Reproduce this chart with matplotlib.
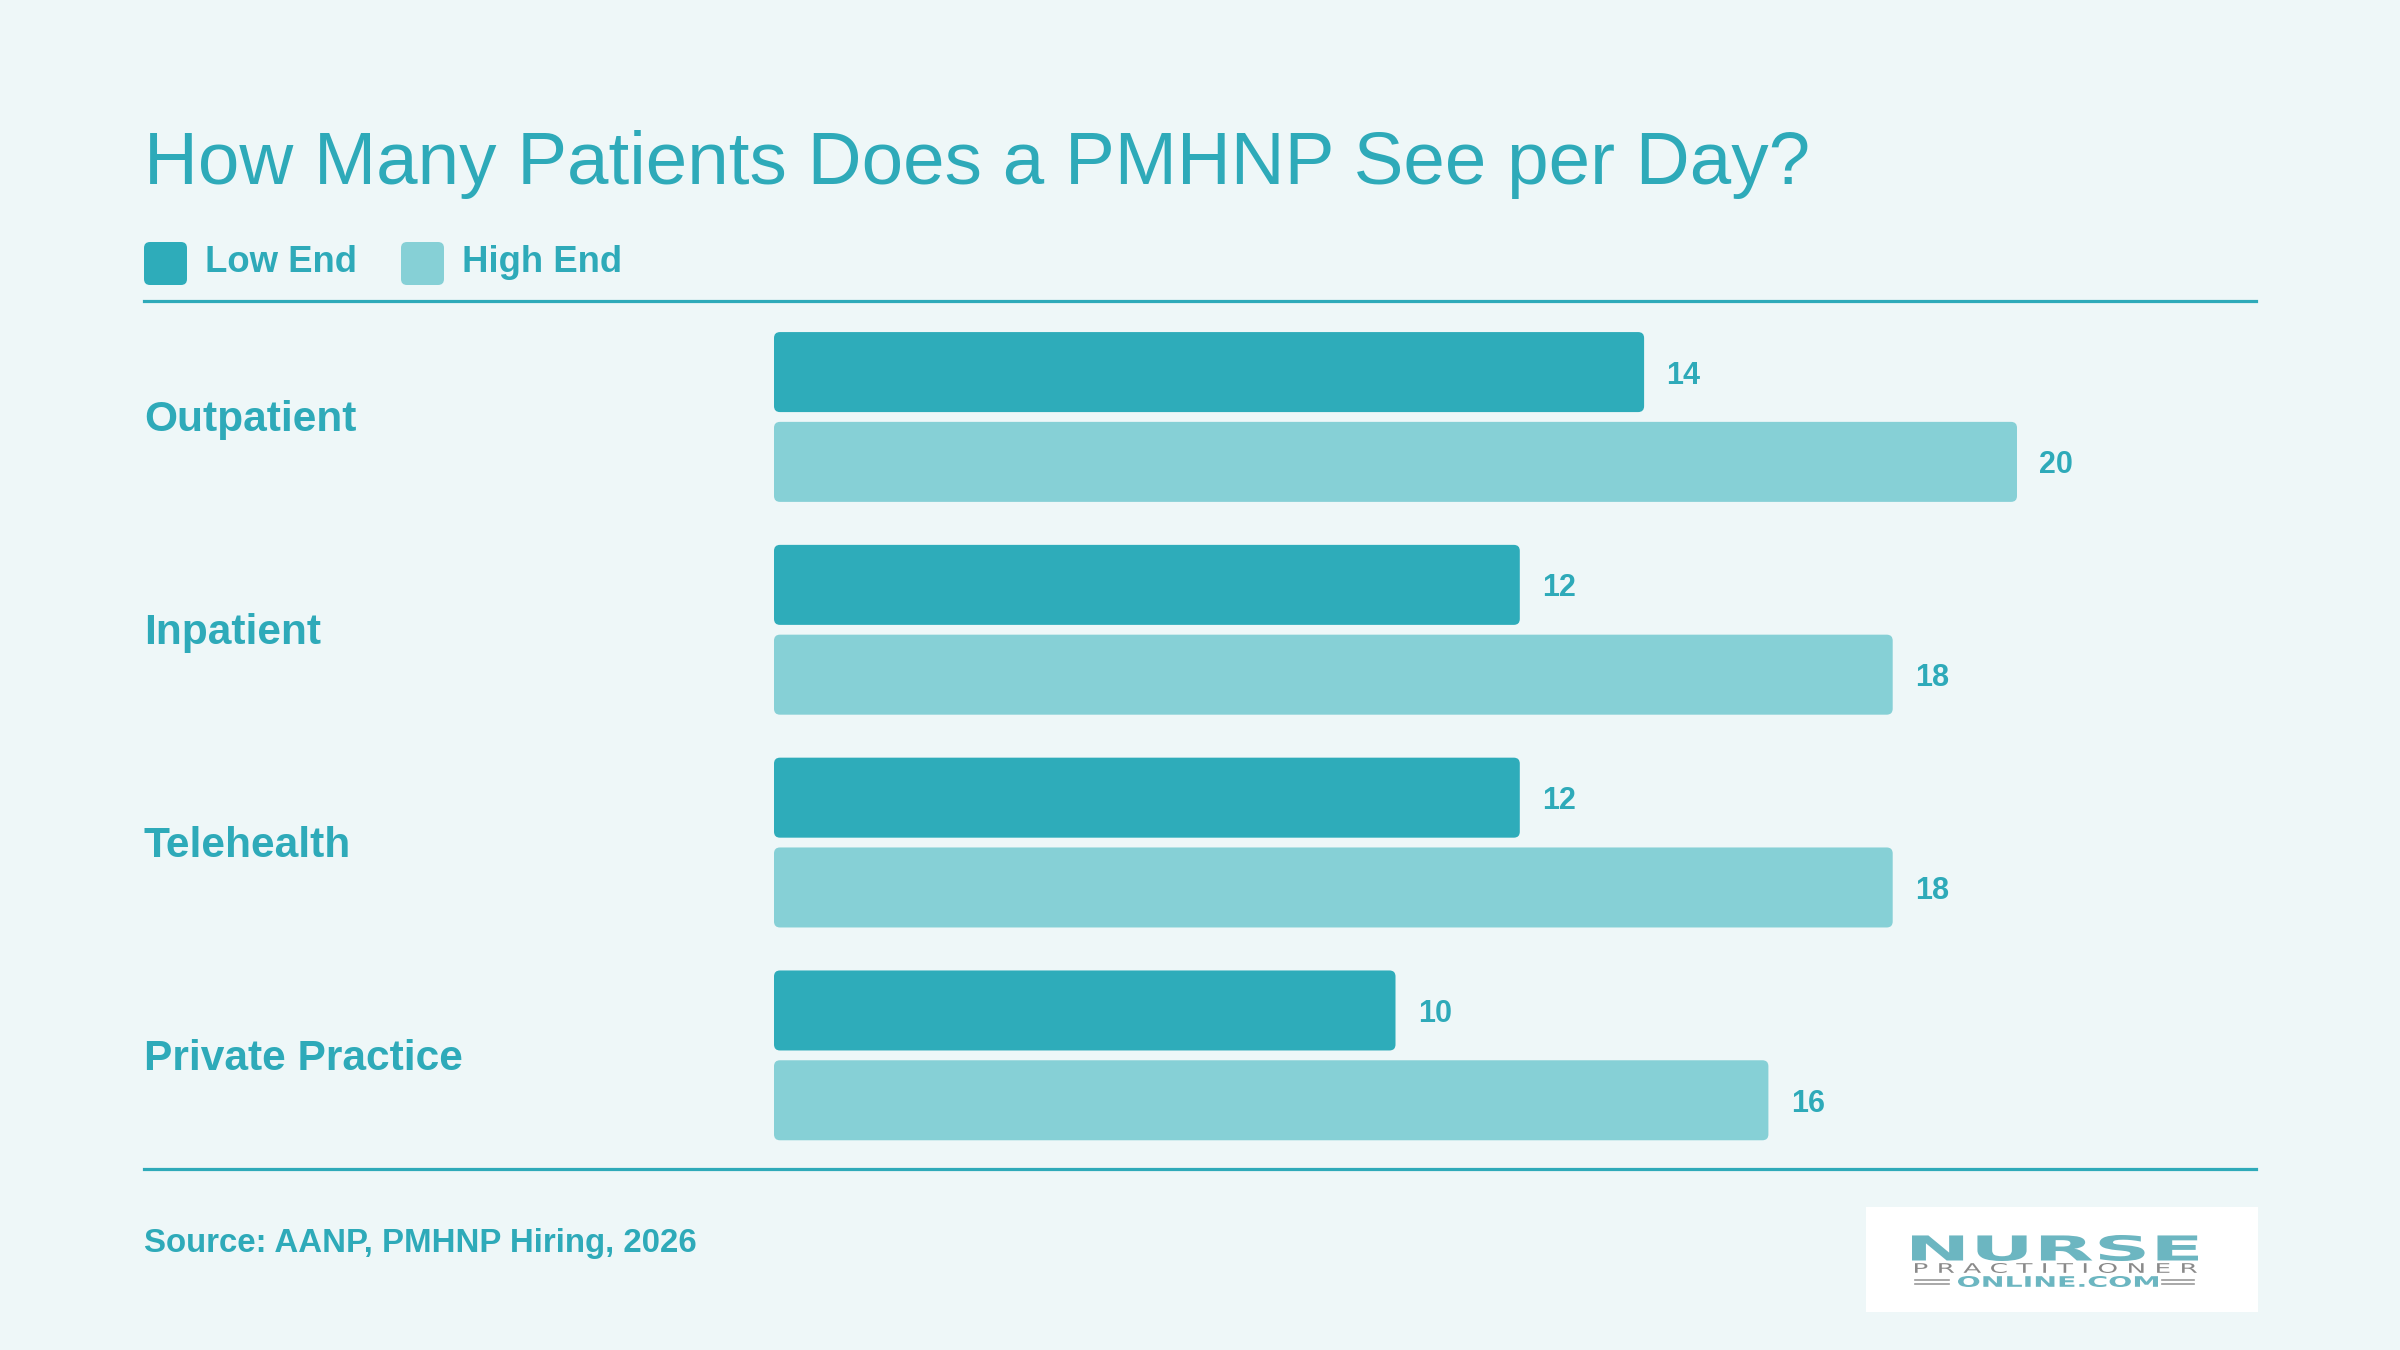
import numpy as np
import matplotlib.pyplot as plt
from matplotlib.patches import FancyBboxPatch, Rectangle, PathPatch
from matplotlib.lines import Line2D
from matplotlib.textpath import TextPath
from matplotlib.font_manager import FontProperties
from matplotlib.transforms import Affine2D, IdentityTransform, blended_transform_factory

# data
categories = ['Outpatient', 'Inpatient', 'Telehealth', 'Private Practice']
low_end = [14, 12, 12, 10]
high_end = [20, 18, 18, 16]
series_names = ['Low End', 'High End']

title = 'How Many Patients Does a PMHNP See per Day?'
source = 'Source: AANP, PMHNP Hiring, 2026'

W, H = 2400, 1350
BG = '#eef7f8'
TEAL = '#2eaab9'
DARK = '#2eacba'
LIGHT = '#86d0d6'
FONT = 'Liberation Sans'

plt.rcParams['font.family'] = [FONT, 'DejaVu Sans']


def fx(x):
	return x / W


def fy(y):
	return 1 - y / H


fig = plt.figure(figsize=(24, 13.5), dpi=100, facecolor=BG)
pix = IdentityTransform()

# title + legend
fig.text(fx(144), fy(184), title, fontsize=53.7, color=TEAL, va='baseline', ha='left')

leg_x = [144, 401]
for name, col, lx in zip(series_names, [DARK, LIGHT], leg_x):
	sq = FancyBboxPatch((lx, H - 285), 43, 43, boxstyle='round,pad=0,rounding_size=6',
						transform=pix, facecolor=col, edgecolor='none')
	fig.add_artist(sq)
	fig.text(fx(lx + 61), fy(272), name, fontsize=26.3, fontweight='bold', color=TEAL,
			 va='baseline', ha='left')

# divider lines
for yy in [301, 1169]:
	fig.add_artist(Line2D([144, 2256], [H - yy, H - yy], transform=pix, color=TEAL, lw=2.3))

# bars
ax = fig.add_axes([fx(774), fy(1169), (2017 - 774) / W, (1169 - 301) / H])
ax.set_xlim(0, 20)
ax.set_ylim(3.534, -0.545)
ax.axis('off')
ax.patch.set_alpha(0)

bar_h = 0.376
off = 0.211
xpx = (2017 - 774) / 20.0
ypx = 212.8
aspect = (6 / ypx) / (6 / xpx)
nudge = 3.5 / ypx

ypos = np.arange(len(categories))
for i, cat in enumerate(categories):
	for val, col, dy in [(low_end[i], DARK, -off), (high_end[i], LIGHT, off)]:
		yc = ypos[i] + dy
		p = FancyBboxPatch((0, yc - bar_h / 2), val, bar_h,
						   boxstyle='round,pad=0,rounding_size=%f' % (6 / xpx),
						   mutation_aspect=aspect, facecolor=col, edgecolor='none')
		ax.add_patch(p)
		ax.text(val + 0.36, yc + nudge, str(val), fontsize=22, fontweight='bold', color=TEAL,
				va='center', ha='left', clip_on=False)

lab_tr = blended_transform_factory(fig.transFigure, ax.transData)
for i, cat in enumerate(categories):
	ax.text(fx(144), ypos[i] + nudge, cat, transform=lab_tr, fontsize=30.6, fontweight='bold',
			color=TEAL, va='center', ha='left')

# source
fig.text(fx(144), fy(1252), source, fontsize=23.8, fontweight='bold', color=TEAL,
		 va='baseline', ha='left')

# logo
fig.add_artist(Rectangle((1866, H - 1312), 392, 105, transform=pix, facecolor='white',
						 edgecolor='none'))


def fit_text(s, x0, x1, ytop, ybot, color, weight='bold'):
	tp = TextPath((0, 0), s, size=50, prop=FontProperties(family='DejaVu Sans', weight=weight))
	bb = tp.get_extents()
	tr = Affine2D().translate(-bb.x0, -bb.y0).scale((x1 - x0) / bb.width,
													(ybot - ytop) / bb.height)
	tr = tr.translate(x0, H - ybot)
	fig.add_artist(PathPatch(tp, transform=tr + pix, facecolor=color, edgecolor='none'))


fit_text('NURSE', 1912, 2198, 1235, 1261, '#6cb6c1')
fit_text('P R A C T I T I O N E R', 1915, 2197, 1263, 1273, '#8a8a8a', weight='normal')
fit_text('ONLINE.COM', 1958, 2158, 1276, 1287, '#6cb6c1')
for xa, xb in [(1915, 1949), (2162, 2194)]:
	for yy in [1279.5, 1284]:
		fig.add_artist(Line2D([xa, xb], [H - yy, H - yy], transform=pix, color='#9a9a9a', lw=1.2))

fig.savefig('out.png', dpi=100, facecolor=BG)
